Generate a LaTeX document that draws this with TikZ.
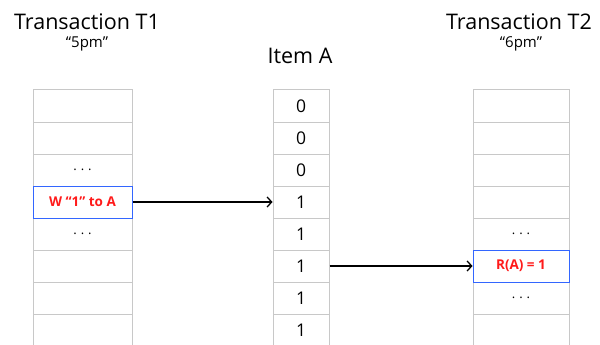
\documentclass[tikz,border=0pt]{standalone}
\usepackage{fontspec}
\setmainfont{Open Sans}
\usetikzlibrary{arrows.meta}
\definecolor{gridgray}{HTML}{C8C8C8}
\definecolor{hiblue}{HTML}{3366FF}
\definecolor{txtred}{HTML}{FF1A1A}
\newcommand{\spdots}{.\hspace{4pt}.\hspace{4pt}.}
\begin{document}
\begin{tikzpicture}[x=1pt,y=-1pt,
  cell/.style={draw=gridgray, line width=1pt, minimum height=32pt, inner sep=0pt, anchor=center},
  t1cell/.style={cell, minimum width=99pt},
  acell/.style={cell, minimum width=56pt, font=\fontsize{17.5}{20}\selectfont},
  t2cell/.style={cell, minimum width=96pt},
  hicell/.style={draw=hiblue, line width=1pt, inner sep=0pt, font=\bfseries\fontsize{13.5}{16}\selectfont, text=txtred},
  dots/.style={font=\fontsize{13}{15}\selectfont},
  title/.style={font=\fontsize{21.5}{25}\selectfont},
  subtitle/.style={font=\fontsize{15}{17}\selectfont},
  conn/.style={line width=1.3pt, -{Straight Barb[length=4.5pt,width=10pt,line width=1.3pt]}}
]
\useasboundingbox (0,0) rectangle (600,345);
% Transaction T1 column
\foreach \i/\t in {1/{},2/{},3/{\spdots},4/{},5/{\spdots},6/{},7/{},8/{}}
  \node[t1cell, dots] (t1r\i) at (82.5,{74+32*\i}) {\t};
% Item A column
\foreach \i/\v in {1/0,2/0,3/0,4/1,5/1,6/1,7/1,8/1}
  \node[acell] (ar\i) at (301,{74+32*\i}) {\v};
% Transaction T2 column
\foreach \i/\t in {1/{},2/{},3/{},4/{},5/{\spdots},6/{},7/{\spdots},8/{}}
  \node[t2cell, dots] (t2r\i) at (521,{74+32*\i}) {\t};
% highlighted cells
\node[hicell, minimum width=99pt, minimum height=32pt] (w1) at (t1r4) {W “1” to A};
\node[hicell, minimum width=96pt, minimum height=32pt] (r1) at (t2r6) {R(A) = 1};
% titles
\node[title] (tt1) at (87,22) {Transaction T1};
\node[subtitle] (st1) at (87,44) {“5pm”};
\node[title] (ta) at (300,56) {Item A};
\node[title] (tt2) at (519,22) {Transaction T2};
\node[subtitle] (st2) at (521,44) {“6pm”};
% connectors
\draw[conn] (w1.east) -- (ar4.west);
\draw[conn] (ar6.east) -- (r1.west);
\end{tikzpicture}
\end{document}
